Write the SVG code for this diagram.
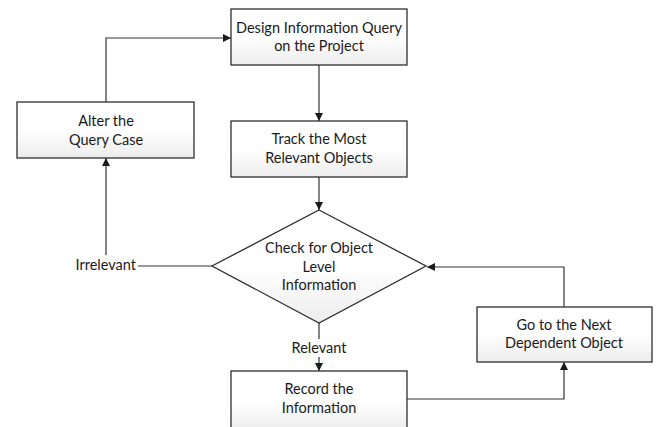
<svg xmlns="http://www.w3.org/2000/svg" width="656" height="427" viewBox="0 0 656 427">
<defs>
<linearGradient id="g" x1="0" y1="0" x2="0" y2="1">
<stop offset="0" stop-color="#ffffff"/>
<stop offset="0.5" stop-color="#ffffff"/>
<stop offset="1" stop-color="#ececec"/>
</linearGradient>
<marker id="arr" markerWidth="8" markerHeight="8" refX="8" refY="4" orient="auto" markerUnits="userSpaceOnUse">
<path d="M0,0 L8,4 L0,8 Z" fill="#1a1a1a"/>
</marker>
</defs>
<style>
.box{fill:url(#g);stroke:#2e2e2e;stroke-width:1.3}
.sh{fill:none;stroke:#c8c8c8;stroke-width:2}
.t{font-family:Lato,"Liberation Sans",sans-serif;font-size:14.5px;fill:#1a1a1a;text-anchor:middle}
.c{fill:none;stroke:#333;stroke-width:1.2}
</style>
<rect width="656" height="427" fill="#ffffff"/>
<g id="connectors">
<polyline class="c" points="106,102 106,38 231,38" marker-end="url(#arr)"/>
<line class="c" x1="319" y1="65" x2="319" y2="121" marker-end="url(#arr)"/>
<line class="c" x1="319" y1="177" x2="319" y2="210" marker-end="url(#arr)"/>
<line class="c" x1="212" y1="266" x2="138" y2="266"/>
<line class="c" x1="106" y1="255" x2="106" y2="158" marker-end="url(#arr)"/>
<line class="c" x1="319" y1="323" x2="319" y2="339"/>
<line class="c" x1="319" y1="357" x2="319" y2="371" marker-end="url(#arr)"/>
<polyline class="c" points="407,399 564,399 564,362" marker-end="url(#arr)"/>
<polyline class="c" points="564,307 564,267 427,267" marker-end="url(#arr)"/>
<text class="t" x="136" y="270" style="text-anchor:end">Irrelevant</text>
<text class="t" x="319" y="353">Relevant</text>
</g>
<g id="design">
<rect class="box" x="231" y="9" width="176" height="56"/>
<text class="t" x="319" y="33">Design Information Query</text>
<text class="t" x="319" y="51">on the Project</text>
</g>
<g id="alter">
<rect class="box" x="17" y="102" width="177" height="56"/>
<text class="t" x="106" y="126">Alter the</text>
<text class="t" x="106" y="145">Query Case</text>
</g>
<g id="track">
<rect class="box" x="231" y="121" width="176" height="56"/>
<text class="t" x="319" y="144">Track the Most</text>
<text class="t" x="319" y="163">Relevant Objects</text>
</g>
<g id="check">
<polygon class="box" points="319,210 426,266 319,323 212,266"/>
<text class="t" x="319" y="253">Check for Object</text>
<text class="t" x="319" y="272">Level</text>
<text class="t" x="319" y="290">Information</text>
</g>
<g id="record">
<rect class="box" x="231" y="371" width="176" height="60"/>
<text class="t" x="319" y="394">Record the</text>
<text class="t" x="319" y="413">Information</text>
</g>
<g id="next">
<rect class="box" x="477" y="307" width="175" height="55"/>
<text class="t" x="564" y="330">Go to the Next</text>
<text class="t" x="564" y="348">Dependent Object</text>
</g>
</svg>
